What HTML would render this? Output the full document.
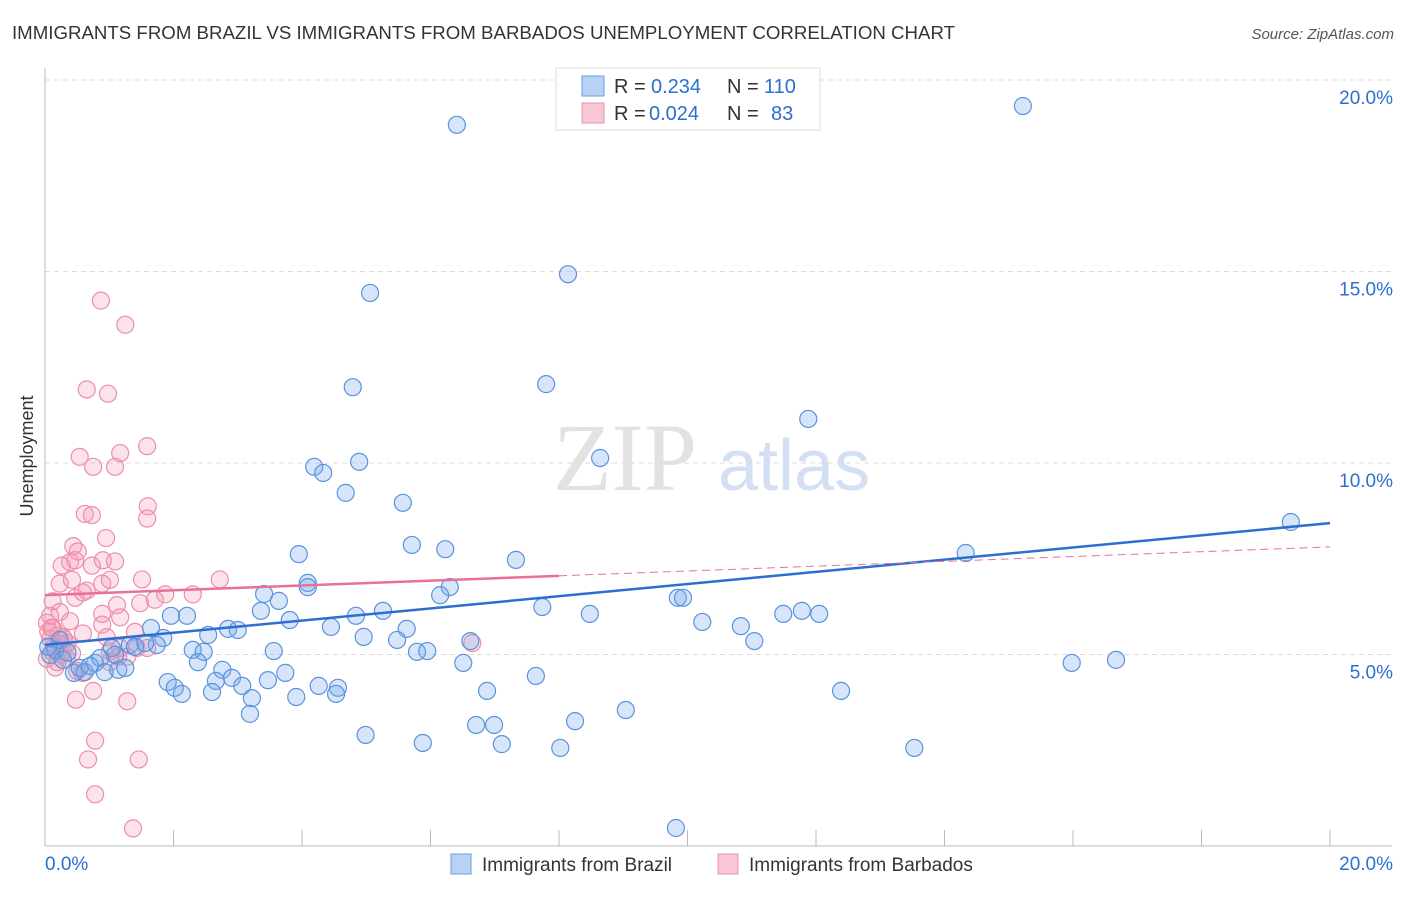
<!DOCTYPE html>
<html><head><meta charset="utf-8"><style>
body{margin:0;background:#fff;font-family:"Liberation Sans",sans-serif;}
</style></head><body>
<svg width="1406" height="892" xmlns="http://www.w3.org/2000/svg" id="svg" font-family="Liberation Sans, sans-serif">
<text x="12" y="39" font-size="18" fill="#333" textLength="943" lengthAdjust="spacingAndGlyphs">IMMIGRANTS FROM BRAZIL VS IMMIGRANTS FROM BARBADOS UNEMPLOYMENT CORRELATION CHART</text>
<text x="1394" y="39" font-size="15" fill="#555" text-anchor="end" font-style="italic">Source: ZipAtlas.com</text>
<text transform="translate(33,456) rotate(-90)" font-size="18" fill="#333" text-anchor="middle">Unemployment</text>
<g><text x="553" y="490" font-size="96" fill="#e2e2e2" font-family="Liberation Serif, serif">ZIP</text><text x="718" y="490" font-size="72" fill="#d3e0f3">atlas</text></g>
<g id="grid"></g><g id="axes"></g><g id="pts"></g><g id="trend"></g>
<g>
<rect x="556" y="68" width="264" height="62" fill="#fff" stroke="#ddd"/>
<rect x="582" y="76" width="22" height="20" fill="#b8d2f3" stroke="#6a9ee0"/>
<text x="614" y="93" font-size="20" fill="#333">R =</text><text x="651" y="93" font-size="20" fill="#2c6fd1">0.234</text>
<text x="727" y="93" font-size="20" fill="#333">N =</text><text x="764" y="93" font-size="20" fill="#2c6fd1">110</text>
<rect x="582" y="103" width="22" height="20" fill="#f9c6d5" stroke="#ec90ab"/>
<text x="614" y="120" font-size="20" fill="#333">R =</text><text x="649" y="120" font-size="20" fill="#2c6fd1">0.024</text>
<text x="727" y="120" font-size="20" fill="#333">N =</text><text x="771" y="120" font-size="20" fill="#2c6fd1">83</text>
</g>
<g>
<rect x="451" y="854" width="20" height="20" fill="#b8d2f3" stroke="#6a9ee0"/>
<text x="482" y="871" font-size="19" fill="#333">Immigrants from Brazil</text>
<rect x="718" y="854" width="20" height="20" fill="#f9c6d5" stroke="#ec90ab"/>
<text x="749" y="871" font-size="19" fill="#333">Immigrants from Barbados</text>
</g>
</svg>
<script>
const yTicks=[5,10,15,20];
const yTickLabels=["5.0%","10.0%","15.0%","20.0%"];
const xTickLabels=["0.0%","20.0%"];
const brazilX=[6.41,15.22,8.14,5.06,4.79,7.80,11.88,8.64,4.19,4.33,4.89,4.68,5.57,3.95,5.71,6.23,7.33,14.33,19.39,4.09,4.09,6.30,6.15,3.41,3.64,3.36,3.81,2.21,1.96,4.84,5.26,7.74,8.48,9.85,9.93,10.23,10.83,11.04,11.49,11.78,12.05,4.45,4.96,5.63,5.48,5.79,5.95,6.51,6.62,2.54,2.85,3.00,1.65,1.84,1.74,1.56,1.04,2.30,2.47,3.56,2.38,2.76,2.91,2.66,2.60,3.07,3.22,3.74,3.47,1.91,2.02,2.13,3.91,4.26,4.56,4.53,3.19,6.88,7.64,12.39,15.98,16.67,4.99,5.88,6.71,6.99,7.11,8.02,8.25,9.04,13.53,9.82,0.08,0.16,0.28,0.45,0.54,0.62,0.78,0.86,0.93,1.14,1.25,1.09,1.32,0.23,0.05,0.35,0.70,1.40];
const brazilY=[18.83,19.32,14.93,14.44,11.98,12.06,11.15,10.13,9.90,9.74,10.03,9.22,8.96,7.62,7.86,7.75,7.47,7.65,8.46,6.87,6.76,6.76,6.55,6.58,6.40,6.14,5.90,6.01,6.01,6.01,6.14,6.24,6.06,6.48,6.48,5.85,5.74,5.35,6.06,6.14,6.06,5.72,5.46,5.67,5.38,5.07,5.09,4.78,5.35,5.51,5.67,5.64,5.69,5.43,5.25,5.30,5.17,5.12,5.07,5.09,4.80,4.60,4.39,4.31,4.02,4.18,3.86,4.52,4.33,4.28,4.13,3.97,3.89,4.18,4.13,3.97,3.45,4.05,4.44,4.05,4.78,4.86,2.90,2.69,3.16,3.16,2.66,2.56,3.26,3.55,2.56,0.47,4.99,5.12,4.86,4.52,4.65,4.54,4.78,4.91,4.54,4.60,4.65,4.99,5.25,5.38,5.20,5.05,4.70,5.20];
const barbX=[0.87,1.25,0.65,0.98,0.54,0.75,1.09,1.17,1.59,0.62,0.73,1.60,1.59,0.95,0.44,0.51,0.39,0.26,0.47,0.73,0.90,1.09,0.23,0.42,0.65,0.89,1.01,1.51,2.72,0.47,0.59,1.48,1.71,1.87,2.30,0.12,1.12,0.89,1.17,0.89,0.08,0.23,0.03,0.39,0.59,0.96,1.17,0.23,0.12,0.08,1.40,0.28,0.11,0.03,0.19,0.34,0.16,0.28,0.42,1.01,1.14,1.43,1.59,1.01,0.50,0.58,1.28,0.48,0.75,1.28,0.78,0.67,1.46,0.78,1.37,6.65,0.05,0.15,0.20,0.30,0.10,0.25,0.35];
const barbY=[14.24,13.61,11.92,11.81,10.16,9.90,9.90,10.26,10.44,8.67,8.64,8.87,8.55,8.04,7.83,7.69,7.41,7.32,7.46,7.32,7.46,7.43,6.85,6.95,6.67,6.85,6.95,6.96,6.96,6.48,6.62,6.34,6.43,6.57,6.57,6.39,6.29,6.06,5.97,5.78,6.01,6.11,5.83,5.87,5.55,5.45,5.17,5.27,5.69,5.41,5.59,5.45,5.08,4.89,4.80,4.89,4.66,5.08,5.03,5.08,4.94,5.17,5.17,4.80,4.57,4.52,4.94,3.82,4.05,3.78,2.75,2.26,2.26,1.35,0.46,5.30,5.60,5.20,5.50,5.40,5.70,5.00,5.30];
const brazilTrend=[5.25,8.43];
const barbTrend=[6.55,7.81];
const X=v=>45+v/20*1285, Y=v=>846-v*38.3;
const NS='http://www.w3.org/2000/svg';
function mk(parent,tag,attrs){const e=document.createElementNS(NS,tag);for(const k in attrs)e.setAttribute(k,attrs[k]);document.getElementById(parent).appendChild(e);return e;}
yTicks.forEach((t,i)=>{
 const l=mk('grid','line',{x1:45,x2:1392,y1:Y(t),y2:Y(t),stroke:'#ddd','stroke-dasharray':'5,4'});
 
 
 const tx=mk('grid','text',{x:1393,y:Y(t)+24,'font-size':19,fill:'#2c6fd1','text-anchor':'end'});
 tx.textContent=yTickLabels[i];
 
 
});
let a=mk('axes','line',{x1:45,x2:45,y1:68,y2:846,stroke:'#bbb'});


a=mk('axes','line',{x1:45,x2:1392,y1:846,y2:846,stroke:'#bbb'});


for(let i=1;i<=10;i++){const t=mk('axes','line',{x1:X(i*2),x2:X(i*2),y1:830,y2:846,stroke:'#bbb'});
 
 }
let xl=mk('axes','text',{x:45,y:870,'font-size':19,fill:'#2c6fd1'});xl.textContent=xTickLabels[0];


xl=mk('axes','text',{x:1393,y:870,'font-size':19,fill:'#2c6fd1','text-anchor':'end'});xl.textContent=xTickLabels[1];


barbX.forEach((v,i)=>{const c=mk('pts','circle',{cx:X(v),cy:Y(barbY[i]),r:8.5,fill:'rgba(244,150,180,0.28)',stroke:'#ec8fab','stroke-width':1.2});
 
 });
brazilX.forEach((v,i)=>{const c=mk('pts','circle',{cx:X(v),cy:Y(brazilY[i]),r:8.5,fill:'rgba(120,170,235,0.3)',stroke:'#5a93dc','stroke-width':1.2});
 
 });
let t=mk('trend','line',{x1:X(0),x2:X(20),y1:Y(brazilTrend[0]),y2:Y(brazilTrend[1]),stroke:'#2c6fd1','stroke-width':2.5});


const bm=v=>barbTrend[0]+(barbTrend[1]-barbTrend[0])*v/20;
t=mk('trend','line',{x1:X(0),x2:X(8),y1:Y(bm(0)),y2:Y(bm(8)),stroke:'#e8709a','stroke-width':2.5});


t=mk('trend','line',{x1:X(8),x2:X(20),y1:Y(bm(8)),y2:Y(bm(20)),stroke:'#e8709a','stroke-width':1,'stroke-dasharray':'8,5'});


</script>
</body></html>
